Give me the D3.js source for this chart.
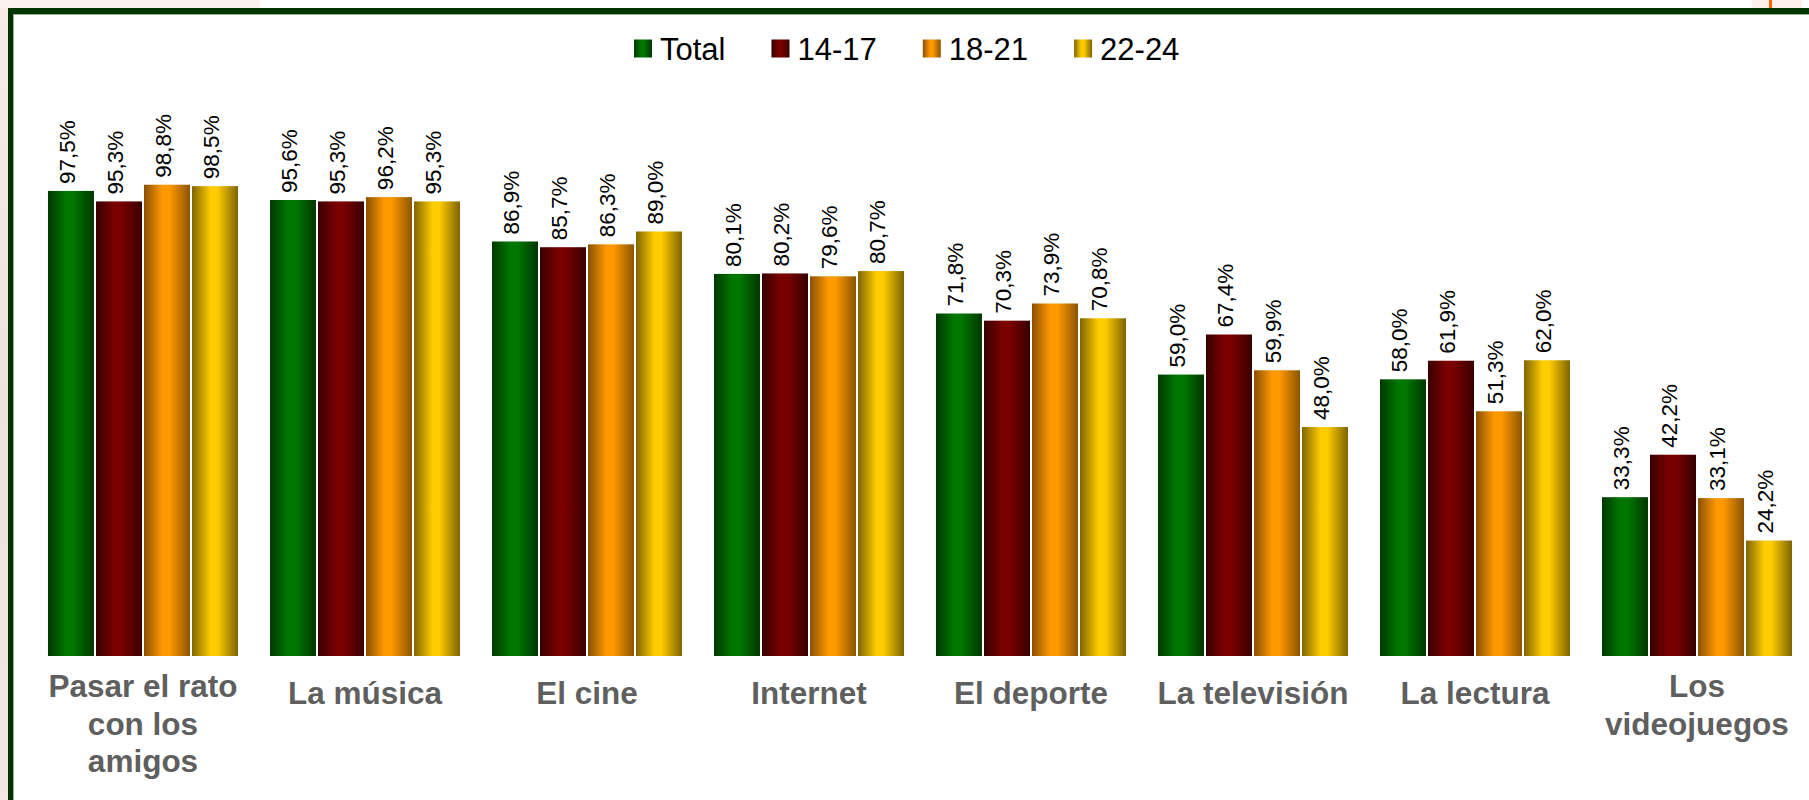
<!DOCTYPE html>
<html>
<head>
<meta charset="utf-8">
<script src="https://cdn.jsdelivr.net/npm/d3@7"></script>
<style>
  html, body { margin: 0; padding: 0; background: #ffffff; }
  svg { display: block; font-family: "Liberation Sans", Arial, sans-serif; }
</style>
</head>
<body>
<svg id="chart" width="1809" height="800"></svg>
<script>
// ---- Data ----
const categories = ["Pasar el rato con los amigos", "La música", "El cine", "Internet",
                    "El deporte", "La televisión", "La lectura", "Los videojuegos"];
const seriesNames = ["Total", "14-17", "18-21", "22-24"];
const totalValues = [97.5, 95.6, 86.9, 80.1, 71.8, 59.0, 58.0, 33.3];
const age1417Values = [95.3, 95.3, 85.7, 80.2, 70.3, 67.4, 61.9, 42.2];
const age1821Values = [98.8, 96.2, 86.3, 79.6, 73.9, 59.9, 51.3, 33.1];
const age2224Values = [98.5, 95.3, 89.0, 80.7, 70.8, 48.0, 62.0, 24.2];

// gradient stops per series: [edge-left, center, edge-right]
const seriesGradients = [
  ["#003800", "#007800", "#003600"],
  ["#380000", "#7a0000", "#360000"],
  ["#8a5000", "#ff9900", "#8a5500"],
  ["#7f6500", "#ffcc00", "#7d6400"]
];

const valuesBySeries = [totalValues, age1417Values, age1821Values, age2224Values];
const rows = categories.map((c, i) => ({
  category: c,
  values: seriesNames.map((s, j) => ({ series: s, idx: j, value: valuesBySeries[j][i] }))
}));

const svg = d3.select("#chart");
const W = 1809, H = 800;

// ---- Background / frame ----
const defs = svg.append("defs");
const bgGrad = defs.append("linearGradient").attr("id", "bgLeft").attr("x1", 0).attr("x2", 0).attr("y1", 0).attr("y2", 1);
bgGrad.append("stop").attr("offset", 0).attr("stop-color", "#f8ece8");
bgGrad.append("stop").attr("offset", 0.5).attr("stop-color", "#efe2dc");
bgGrad.append("stop").attr("offset", 1).attr("stop-color", "#f4e6e2");

svg.append("rect").attr("x", 0).attr("y", 0).attr("width", 8).attr("height", H).attr("fill", "url(#bgLeft)");
svg.append("rect").attr("x", 0).attr("y", 0).attr("width", 260).attr("height", 8).attr("fill", "#faf1ef");
svg.append("rect").attr("x", 1752).attr("y", 0).attr("width", 50).attr("height", 8).attr("fill", "#fbf1ea");
svg.append("rect").attr("x", 1769).attr("y", 0).attr("width", 3).attr("height", 8).attr("fill", "#ff6600");

// frame borders (left and top)
svg.append("rect").attr("x", 8).attr("y", 8).attr("width", W - 8).attr("height", 6).attr("fill", "#003300");
svg.append("rect").attr("x", 13).attr("y", 14).attr("width", W - 13).attr("height", 1).attr("fill", "#8fb48f");
svg.append("rect").attr("x", 8).attr("y", 8).attr("width", 5).attr("height", H - 8).attr("fill", "#003300");
svg.append("rect").attr("x", 13).attr("y", 14).attr("width", 1).attr("height", H - 14).attr("fill", "#8fb48f");

// ---- Gradients for bars ----
seriesGradients.forEach((g, i) => {
  const lg = defs.append("linearGradient").attr("id", "grad" + i)
    .attr("x1", 0).attr("x2", 1).attr("y1", 0).attr("y2", 0);
  lg.append("stop").attr("offset", 0).attr("stop-color", g[0]);
  lg.append("stop").attr("offset", 0.4).attr("stop-color", g[1]);
  lg.append("stop").attr("offset", 0.55).attr("stop-color", g[1]);
  lg.append("stop").attr("offset", 1).attr("stop-color", g[2]);
});

// ---- Scales ----
const x0 = d3.scaleBand().domain(categories).range([32, 1808]).paddingInner(0.144).paddingOuter(0.072);
const x1 = d3.scaleBand().domain(seriesNames).range([0, x0.bandwidth()]).paddingInner(0.042).paddingOuter(0);
const y = d3.scaleLinear().domain([0, 100]).range([656, 179]);

// ---- Bars ----
const groups = svg.append("g").selectAll("g.grp").data(rows).join("g")
  .attr("class", "grp")
  .attr("transform", d => `translate(${x0(d.category)},0)`);

groups.selectAll("rect").data(d => d.values).join("rect")
  .attr("x", d => x1(d.series))
  .attr("y", d => y(d.value))
  .attr("width", x1.bandwidth())
  .attr("height", d => y(0) - y(d.value))
  .attr("fill", d => `url(#grad${d.idx})`);

// ---- Value labels (rotated) ----
const fmt = v => v.toFixed(1).replace(".", ",") + "%";
groups.selectAll("text.val").data(d => d.values).join("text")
  .attr("class", "val")
  .attr("transform", d => `translate(${x1(d.series) + x1.bandwidth() / 2 + 4},${y(d.value) - 7}) rotate(-90)`)
  .attr("font-size", 22.5)
  .attr("fill", "#000")
  .attr("text-anchor", "start")
  .text(d => fmt(d.value));

// ---- Category labels ----
const axisG = svg.append("g");
const tmp = svg.append("text").attr("font-size", 31.5).attr("font-weight", "bold").attr("visibility", "hidden");
function wrap(label, maxW) {
  const words = label.split(" ");
  const lines = [];
  let cur = "";
  words.forEach(w => {
    const test = cur ? cur + " " + w : w;
    tmp.text(test);
    if (tmp.node().getComputedTextLength() > maxW && cur) { lines.push(cur); cur = w; }
    else cur = test;
  });
  if (cur) lines.push(cur);
  return lines;
}
categories.forEach(c => {
  const lines = wrap(c, 205);
  const cx = x0(c) + x0.bandwidth() / 2;
  const y0 = lines.length > 1 ? 697 : 704;
  const t = axisG.append("text")
    .attr("text-anchor", "middle")
    .attr("font-size", 31.5)
    .attr("font-weight", "bold")
    .attr("fill", "#5f5f5f");
  lines.forEach((ln, k) => {
    t.append("tspan").attr("x", cx).attr("y", y0 + k * 37.5).text(ln);
  });
});
tmp.remove();

// ---- Legend ----
const legend = svg.append("g");
let lx = 634;
seriesNames.forEach((s, i) => {
  legend.append("rect").attr("x", lx).attr("y", 39.5).attr("width", 18).attr("height", 18)
    .attr("fill", `url(#grad${i})`);
  const t = legend.append("text").attr("x", lx + 26).attr("y", 60)
    .attr("font-size", 31).attr("fill", "#000").text(s);
  lx += 26 + t.node().getComputedTextLength() + 46;
});
</script>
</body>
</html>
